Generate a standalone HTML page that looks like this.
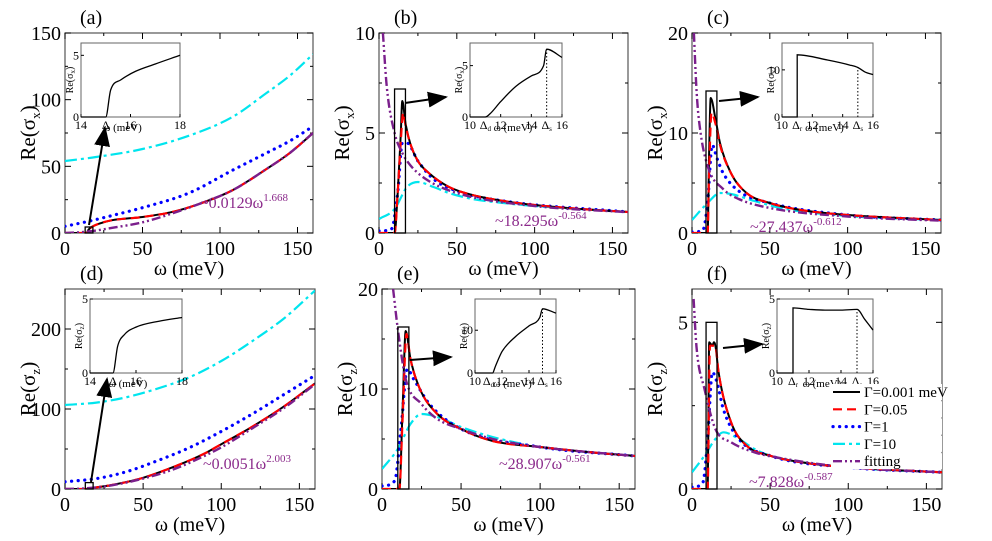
<!DOCTYPE html>
<html><head><meta charset="utf-8">
<style>
html,body{margin:0;padding:0;background:#fff;}
svg text{font-family:"Liberation Serif","Times New Roman","DejaVu Serif",serif;}
</style></head>
<body>
<svg id="fig" width="992" height="536" viewBox="0 0 992 536" font-family="Liberation Serif, DejaVu Serif, serif" xmlns="http://www.w3.org/2000/svg">
<defs><marker id="ah" markerWidth="10" markerHeight="8" refX="9" refY="4" orient="auto"><path d="M0,0 L10,4 L0,8 z" fill="#000"/></marker></defs>
</svg>
<script>
// ---------- panel (a) ----------
const aBlackX=[0,14,15,15.6,18,22,30,50,70,87,108,130,145,160];
const aBlackY=[0,0,2.2,3,5,7,9.5,12,16,22,32,48,60,75];
const aBlueX=[0,16,30,50,80,108,130,145,160];
const aBlueY=[5,9,13,19,30,47,60,69,80];
const aCyanX=[0,20,50,80,108,130,145,160];
const aCyanY=[54,57,63,73,87,105,118,134];
const aFitX=[0,10,20,30,50,70,87,108,130,145,160];
const aFitY=[0,0.6,1.9,3.8,8,15,22,32,48,60,75];
const aInsX=[14,15,15.2,15.6,16.2,17,18];
const aInsY=[0,0,2.2,3,3.7,4.3,5];
// ---------- panel (b) ----------
const bBlackX=[0,10,12,14,15,17,20,25,32,45,60,80,100,130,160];
const bBlackY=[0,0,2,5,6.6,5.5,4.5,3.6,3,2.3,1.9,1.6,1.4,1.2,1.05];
const bRedX=[0,10,12,14,15.5,17,20,25,32,45,60,80,100,130,160];
const bRedY=[0,0,2,4.6,6.0,5.4,4.5,3.6,3,2.3,1.9,1.6,1.4,1.2,1.05];
const bBlueX=[0,8,12,15,18,25,35,50,80,160];
const bBlueY=[0.1,0.2,2,4.5,4.5,3.6,2.7,2.1,1.6,1.05];
const bCyanX=[0,10,18,25,35,45,60,80,100,160];
const bCyanY=[0.7,1.2,2.3,2.55,2.3,2.0,1.7,1.5,1.35,1.05];
const bFitX=[2.5,5,10,15,20,30,50,100,160];
const bFitY=[10,7.3,5.0,4.0,3.4,2.7,2.0,1.35,1.04];
const bInsX=[10,11,11.3,12,13,14,14.8,15,16];
const bInsY=[0,0,0.3,1.5,3,4,5,6.6,5.8];
// ---------- panel (c) ----------
const cBlackX=[0,10,11,12,15,18,25,35,50,70,100,160];
const cBlackY=[0,0,8,13.5,11.5,9,6,4,3,2.3,1.8,1.3];
const cRedX=[0,10,11,12.5,15,18,25,35,50,70,100,160];
const cRedY=[0,0,6,12,11,8.8,6,4,3,2.3,1.8,1.3];
const cBlueX=[0,7,10,13,16,20,30,50,100,160];
const cBlueY=[0.1,0.3,3,8.8,7.5,6,4.2,3,1.8,1.3];
const cCyanX=[0,10,18,25,40,60,100,160];
const cCyanY=[1.3,3,4.0,3.9,3.2,2.4,1.7,1.3];
const cFitX=[1.2,3,5,10,20,30,50,100,160];
const cFitY=[20,14,10.6,6.7,4.4,3.4,2.5,1.65,1.23];
const cInsX=[10,11,11,13,14.5,15,15.5,16];
const cInsY=[0,0,13.2,12.1,11,10.5,9.5,9];
// ---------- panel (d) ----------
const dBlackX=[0,14,20,30,50,70,90,100,120,140,160];
const dBlackY=[0,0,2,5,14,28,45,56,78,103,132];
const dBlueX=[0,20,40,60,80,100,120,140,160];
const dBlueY=[9,13,22,36,52,72,94,118,142];
const dCyanX=[0,20,40,60,80,100,120,140,160];
const dCyanY=[105,108,115,126,140,160,185,213,248];
const dFitX=[0,10,20,30,50,70,90,100,120,140,160];
const dFitY=[0,0.5,2,4.6,13,25,42,52,76,101,131];
const dInsX=[14,15,15.2,15.5,16,17,18];
const dInsY=[0,0,1.8,2.6,3.1,3.5,3.75];
// ---------- panel (e) ----------
const eBlackX=[0,11,13,15,18,24,35,50,70,100,130,160];
const eBlackY=[0,0,8,15.8,13,10,7.5,6,4.8,4.2,3.7,3.3];
const eRedX=[0,11,13,15.5,18,24,35,50,70,100,130,160];
const eRedY=[0,0,7,15.5,13,10,7.5,6,4.8,4.2,3.7,3.3];
const eBlueX=[0,8,12,16,20,30,50,100,160];
const eBlueY=[0.3,0.8,6,12,11,8.5,6,4.2,3.3];
const eCyanX=[0,10,18,25,35,50,70,100,160];
const eCyanY=[2,4,6.5,7.5,7.2,6.2,5.2,4.2,3.3];
const eFitX=[7,10,15,25,35,50,70,100,160];
const eFitY=[20,16,11,8.5,7,6,5,4.2,3.3];
const eInsX=[10,11.3,11.5,12,13,14,14.8,15,16];
const eInsY=[0,0,1.5,5,8.5,11,13,15,14];
// ---------- panel (f) ----------
const fBlackX=[0,10,11,12,13,14,15,17,25,35,50,70,100,160];
const fBlackY=[0,0,4.4,4.35,4.3,4.4,4.3,3.5,2,1.3,1.0,0.8,0.65,0.5];
const fRedX=[0,10,11.5,15,17,25,35,50,70,100,160];
const fRedY=[0,0,4.3,4.3,3.5,2,1.3,1.0,0.8,0.65,0.5];
const fBlueX=[0,7,10,13,16,20,30,50,100,160];
const fBlueY=[0.05,0.2,1.5,3.5,3.2,2.4,1.5,1.0,0.65,0.5];
const fCyanX=[0,8,15,20,30,40,50,100,160];
const fCyanY=[0.5,1,1.5,1.7,1.5,1.2,1.0,0.65,0.5];
const fFitX=[1,3,8,15,25,40,60,100,160];
const fFitY=[5.7,4.2,3,1.8,1.4,1.1,0.9,0.65,0.5];
const fInsX=[10,11,11,12,13,14,15,15.5,16];
const fInsY=[0,0,4.4,4.3,4.25,4.25,4.3,3.6,2.9];

const legendLabels=['Γ=0.001 meV','Γ=0.05','Γ=1','Γ=10','fitting'];

const NS='http://www.w3.org/2000/svg';
const svg=document.getElementById('fig');
function el(tag,attrs,parent){const e=document.createElementNS(NS,tag);for(const k in attrs)e.setAttribute(k,attrs[k]);(parent||svg).appendChild(e);return e;}
const STY={
 black:{stroke:'#000',dash:'',w:2,cap:'butt'},
 red:{stroke:'#ff0000',dash:'9,5',w:2.2,cap:'butt'},
 blue:{stroke:'#0000ff',dash:'0.1,6.5',w:3.2,cap:'round'},
 cyan:{stroke:'#00e5ee',dash:'12,4,3,4',w:2.2,cap:'butt'},
 fit:{stroke:'#7b1f8c',dash:'9,3,2,3,2,3',w:2.4,cap:'butt'}
};
function monoPath(px,py){
 const n=px.length;if(n<2)return '';
 const d=[],m=new Array(n);
 for(let i=0;i<n-1;i++){const dx=px[i+1]-px[i];d.push(dx===0?0:(py[i+1]-py[i])/dx);}
 m[0]=d[0];m[n-1]=d[n-2];
 for(let i=1;i<n-1;i++){m[i]=(d[i-1]*d[i]<=0)?0:(d[i-1]+d[i])/2;}
 for(let i=0;i<n-1;i++){if(d[i]===0){m[i]=0;m[i+1]=0;continue;}
  const a=m[i]/d[i],b=m[i+1]/d[i],s=a*a+b*b;if(s>9){const t=3/Math.sqrt(s);m[i]=t*a*d[i];m[i+1]=t*b*d[i];}}
 let p='M'+px[0].toFixed(1)+','+py[0].toFixed(1);
 for(let i=0;i<n-1;i++){const h=(px[i+1]-px[i])/3;
  if(h===0){p+='L'+px[i+1].toFixed(1)+','+py[i+1].toFixed(1);continue;}
  p+='C'+(px[i]+h).toFixed(1)+','+(py[i]+m[i]*h).toFixed(1)+' '+(px[i+1]-h).toFixed(1)+','+(py[i+1]-m[i+1]*h).toFixed(1)+' '+px[i+1].toFixed(1)+','+py[i+1].toFixed(1);}
 return p;
}
function series(g,sx,sy,xs,ys,sty,name,clip){
 const p=el('path',{d:monoPath(xs.map(sx),ys.map(sy)),fill:'none',stroke:sty.stroke,'stroke-width':sty.w,'stroke-dasharray':sty.dash,'stroke-linecap':sty.cap,'clip-path':clip},g);
 
 
}
let clipN=0;
function panel(cfg){
 const g=el('g',{});
 
 
 const L=cfg.L,R=cfg.R,T=cfg.T,B=cfg.B;
 const sx=v=>L+(v/160)*(R-L), sy=v=>B-(v/cfg.ymax)*(B-T);
 const cid='c'+(clipN++);
 const cp=el('clipPath',{id:cid},g);el('rect',{x:L,y:T,width:R-L,height:B-T},cp);
 const fr=el('rect',{x:L,y:T,width:R-L,height:B-T,fill:'none',stroke:'#555','stroke-width':1.2},g);
 
 [0,50,100,150].forEach(v=>{const x=sx(v);
  el('line',{x1:x,y1:B,x2:x,y2:B-6,stroke:'#000'},g);el('line',{x1:x,y1:T,x2:x,y2:T+6,stroke:'#000'},g);
  const t=el('text',{x:x,y:B+22,'text-anchor':'middle','font-size':20},g);t.textContent=v;
  });
 [25,75,125].forEach(v=>{const x=sx(v);el('line',{x1:x,y1:B,x2:x,y2:B-3,stroke:'#000'},g);el('line',{x1:x,y1:T,x2:x,y2:T+3,stroke:'#000'},g);});
 cfg.yt.forEach(v=>{const y=sy(v);
  el('line',{x1:L,y1:y,x2:L+6,y2:y,stroke:'#000'},g);el('line',{x1:R,y1:y,x2:R-6,y2:y,stroke:'#000'},g);
  const t=el('text',{x:L-4,y:y+7,'text-anchor':'end','font-size':20},g);t.textContent=v;
  });
 cfg.ym.forEach(v=>{const y=sy(v);el('line',{x1:L,y1:y,x2:L+3,y2:y,stroke:'#000'},g);el('line',{x1:R,y1:y,x2:R-3,y2:y,stroke:'#000'},g);});
 const xl=el('text',{x:(L+R)/2,y:B+42,'text-anchor':'middle','font-size':20},g);xl.textContent='ω (meV)';
 
 const yl=el('text',{transform:`translate(${L-30},${(T+B)/2}) rotate(-90)`,'text-anchor':'middle','font-size':21},g);
 yl.innerHTML='Re(σ<tspan font-size="13" dy="5">'+cfg.sub+'</tspan><tspan dy="-5">)</tspan>';
 
 const pl=el('text',{x:L+15,y:T-9,'font-size':20},g);pl.textContent='('+cfg.id+')';
 
 const c='url(#'+cid+')';
 series(g,sx,sy,cfg.cyan[0],cfg.cyan[1],STY.cyan,'series-gamma-10',c);
 series(g,sx,sy,cfg.blue[0],cfg.blue[1],STY.blue,'series-gamma-1',c);
 series(g,sx,sy,cfg.black[0],cfg.black[1],STY.black,'series-gamma-0001',c);
 series(g,sx,sy,cfg.red[0],cfg.red[1],STY.red,'series-gamma-005',c);
 series(g,sx,sy,cfg.fit[0],cfg.fit[1],STY.fit,'series-fitting',c);
 const bx=el('rect',{x:sx(cfg.box[0]),y:sy(cfg.box[3]),width:sx(cfg.box[1])-sx(cfg.box[0]),height:sy(cfg.box[2])-sy(cfg.box[3]),fill:'none',stroke:'#000','stroke-width':1.3},g);
 
 const ar=el('line',{x1:cfg.arrow[0],y1:cfg.arrow[1],x2:cfg.arrow[2],y2:cfg.arrow[3],stroke:'#000','stroke-width':2,'marker-end':'url(#ah)'},g);
 
 const ft=el('text',{x:cfg.ft[0],y:cfg.ft[1],'font-size':16,fill:'#8b2a8b'},g);
 ft.innerHTML=cfg.ft[2]+'<tspan font-size="11" dy="-7">'+cfg.ft[3]+'</tspan>';
 
 const I=cfg.ins, ig=el('g',{},g);
 
 const ix=v=>I.L+(v-I.x0)/(I.x1-I.x0)*(I.R-I.L), iy=v=>I.B-v/I.ymax*(I.B-I.T);
 el('rect',{x:I.L,y:I.T,width:I.R-I.L,height:I.B-I.T,fill:'#fff',stroke:'#666','stroke-width':1},ig);
 I.xt.forEach(v=>{el('line',{x1:ix(v),y1:I.B,x2:ix(v),y2:I.B-3,stroke:'#000'},ig);
  const t=el('text',{x:ix(v),y:I.B+12,'text-anchor':'middle','font-size':12},ig);t.textContent=v;
  });
 I.yt.forEach(v=>{el('line',{x1:I.L,y1:iy(v),x2:I.L+3,y2:iy(v),stroke:'#000'},ig);
  const t=el('text',{x:I.L-2,y:iy(v)+4,'text-anchor':'end','font-size':12},ig);t.textContent=v;
  });
 I.deltas.forEach(d=>{const t=el('text',{x:ix(d[0]),y:I.B+12,'text-anchor':'middle','font-size':12},ig);
  t.innerHTML='Δ<tspan font-size="7" dy="2">'+d[1]+'</tspan>';
  });
 const it=el('text',{x:(I.L+I.R)/2-(I.xt.length>3?3:8),y:I.B+14,'text-anchor':'middle','font-size':11},ig);it.textContent='ω (meV)';
 
 const iyl=el('text',{transform:`translate(${I.L-8},${(I.T+I.B)/2}) rotate(-90)`,'text-anchor':'middle','font-size':10},ig);
 iyl.innerHTML='Re(σ<tspan font-size="7" dy="2">'+cfg.sub+'</tspan><tspan dy="-2">)</tspan>';
 
 if(I.vline!==undefined){el('line',{x1:ix(I.vline),y1:I.B,x2:ix(I.vline),y2:iy(I.vpeak),stroke:'#000','stroke-dasharray':'1.5,2'},ig);}
 const ip=el('path',{d:monoPath(I.xs.map(ix),I.ys.map(iy)),fill:'none',stroke:'#000','stroke-width':1.3},ig);
 
}
panel({id:'a',sub:'x',L:65,R:313,T:33,B:233,ymax:150,yt:[0,50,100,150],ym:[25,75,125],
 black:[aBlackX,aBlackY],red:[aBlackX,aBlackY],blue:[aBlueX,aBlueY],cyan:[aCyanX,aCyanY],fit:[aFitX,aFitY],
 box:[13,18,0,4.5],arrow:[89,225,105,128],ft:[200,208,'~0.0129ω','1.668'],
 ins:{L:81,R:180,T:43,B:117,x0:14,x1:18,ymax:6,xt:[14,16,18],yt:[0,5],deltas:[[15,'']],xs:aInsX,ys:aInsY}});
panel({id:'b',sub:'x',L:379,R:628,T:33,B:233,ymax:10,yt:[0,5,10],ym:[2.5,7.5],
 black:[bBlackX,bBlackY],red:[bRedX,bRedY],blue:[bBlueX,bBlueY],cyan:[bCyanX,bCyanY],fit:[bFitX,bFitY],
 box:[10,17,0,7.2],arrow:[405,103,446,97],ft:[495,226,'~18.295ω','-0.564'],
 ins:{L:470,R:562,T:43,B:117,x0:10,x1:16,ymax:7.2,xt:[10,12,14,16],yt:[0,5],deltas:[[11,'d'],[15,'s']],vline:15,vpeak:6.6,xs:bInsX,ys:bInsY}});
panel({id:'c',sub:'x',L:692,R:941,T:33,B:233,ymax:20,yt:[0,10,20],ym:[5,15],
 black:[cBlackX,cBlackY],red:[cRedX,cRedY],blue:[cBlueX,cBlueY],cyan:[cCyanX,cCyanY],fit:[cFitX,cFitY],
 box:[9,16,0,14.2],arrow:[719,101,758,97],ft:[750,232,'~27.437ω','-0.612'],
 ins:{L:782,R:873,T:43,B:117,x0:10,x1:16,ymax:15.7,xt:[10,12,14,16],yt:[0,10],deltas:[[11,'r'],[15,'s']],vline:15,vpeak:10.5,xs:cInsX,ys:cInsY}});
panel({id:'d',sub:'z',L:65,R:315,T:289,B:489,ymax:250,yt:[0,100,200],ym:[50,150],
 black:[dBlackX,dBlackY],red:[dBlackX,dBlackY],blue:[dBlueX,dBlueY],cyan:[dCyanX,dCyanY],fit:[dFitX,dFitY],
 box:[13,18,0,8],arrow:[91,482,107,379],ft:[203,469,'~0.0051ω','2.003'],
 ins:{L:90,R:182,T:299,B:373,x0:14,x1:18,ymax:5,xt:[14,16,18],yt:[0,5],deltas:[[15,'']],xs:dInsX,ys:dInsY}});
panel({id:'e',sub:'z',L:382,R:635,T:289,B:489,ymax:20,yt:[0,10,20],ym:[5,15],
 black:[eBlackX,eBlackY],red:[eRedX,eRedY],blue:[eBlueX,eBlueY],cyan:[eCyanX,eCyanY],fit:[eFitX,eFitY],
 box:[10,17,0,16.2],arrow:[410,360,451,357],ft:[499,469,'~28.907ω','-0.561'],
 ins:{L:475,R:556,T:299,B:373,x0:10,x1:16,ymax:17.3,xt:[10,12,14,16],yt:[0,10],deltas:[[11,'d'],[15,'s']],vline:15,vpeak:15,xs:eInsX,ys:eInsY}});
panel({id:'f',sub:'z',L:692,R:942,T:289,B:489,ymax:6,yt:[0,5],ym:[2.5],
 black:[fBlackX,fBlackY],red:[fRedX,fRedY],blue:[fBlueX,fBlueY],cyan:[fCyanX,fCyanY],fit:[fFitX,fFitY],
 box:[9,16,0,5],arrow:[723,348,762,344],ft:[749,487,'~7.828ω','-0.587'],
 ins:{L:777,R:873,T:299,B:373,x0:10,x1:16,ymax:5,xt:[10,12,14,16],yt:[0,5],deltas:[[11,'r'],[15,'s']],vline:15,vpeak:4.3,xs:fInsX,ys:fInsY}});
const lg=el('g',{});


const keys=['black','red','blue','cyan','fit'];
legendLabels.forEach((lab,i)=>{const y=392+i*17.3;const s=STY[keys[i]];
 const e=el('g',{},lg);
 
 
 el('rect',{x:831,y:y-8,width:111,height:16,fill:'#fff'},e);
 el('line',{x1:833,y1:y,x2:860,y2:y,stroke:s.stroke,'stroke-width':s.w,'stroke-dasharray':s.dash,'stroke-linecap':s.cap},e);
 const t=el('text',{x:864,y:y+5,'font-size':15},e);t.textContent=lab;});
</script>
</body></html>
